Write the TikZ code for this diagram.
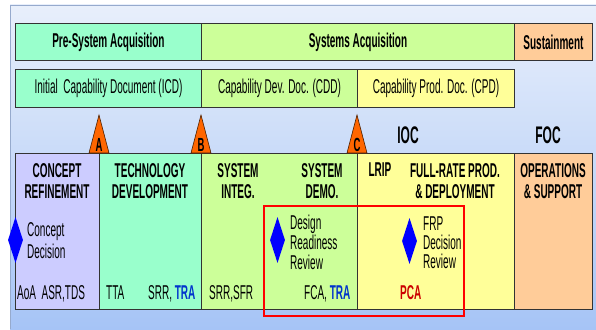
\documentclass[tikz,border=0pt]{standalone}
\usepackage{fontspec}
\setmainfont{Liberation Sans}[FakeStretch=0.5]
\usepackage{xcolor}
\usetikzlibrary{shapes.geometric}
\definecolor{panel_top}{RGB}{232,239,251}
\definecolor{panel_bot}{RGB}{166,196,246}
\definecolor{panel_edge}{RGB}{150,170,205}
\definecolor{pre_sys}{RGB}{153,255,204}
\definecolor{sys_acq}{RGB}{204,255,153}
\definecolor{sustain}{RGB}{255,204,153}
\definecolor{prod}{RGB}{255,255,153}
\definecolor{concept}{RGB}{204,204,255}
\definecolor{milestone}{RGB}{255,102,0}
\definecolor{tra_blue}{RGB}{0,51,204}
\definecolor{pca_red}{RGB}{204,0,0}
\newcommand{\phasefont}{\fontsize{20}{21}\selectfont}

\begin{document}
\begin{tikzpicture}[x=1pt, y=-1pt,
    box/.style = {draw=black!80, line width=0.9pt, anchor=north west, inner sep=0pt,
                  minimum width=#1, font=\phasefont},
    head/.style = {anchor=north, align=center, inner sep=0pt, font=\phasefont\bfseries},
    note/.style = {anchor=north west, align=left, inner sep=0pt, font=\phasefont},
    item/.style = {anchor=base west, inner sep=0pt, font=\phasefont},
    decision/.style = {diamond, fill=blue, inner sep=0pt, minimum width=15, minimum height=46},
    mspoint/.style = {fill=milestone, draw=black!70!milestone, line width=0.6pt}
    ]
  \useasboundingbox (0,0) rectangle (596,329);
  \shade[top color=panel_top, bottom color=panel_bot] (10,5) rectangle (596,329);
  \draw[panel_edge] (10,329) -- (10,5) -- (596,5);

  % phases
  \node[box=186, minimum height=37, fill=pre_sys] (presys) at (15,23) {\bfseries Pre-System Acquisition};
  \node[box=313, minimum height=37, fill=sys_acq] (sysacq) at (201,23) {\bfseries Systems Acquisition};
  \node[box=78, minimum height=37, fill=sustain] (sustain) at (514,23) {\bfseries Sustainment};

  % capability documents
  \node[box=186, minimum height=38, fill=pre_sys] (icd) at (15,69) {Initial\ \ Capability Document (ICD)};
  \node[box=156, minimum height=38, fill=sys_acq] (cdd) at (201,69) {Capability Dev. Doc. (CDD)};
  \node[box=157, minimum height=38, fill=prod] (cpd) at (357,69) {Capability Prod. Doc. (CPD)};

  % work efforts
  \node[box=84, minimum height=156, fill=concept] (crcol) at (15,153) {};
  \node[box=102, minimum height=156, fill=pre_sys] (tdcol) at (99,153) {};
  \node[box=156, minimum height=156, fill=sys_acq] (sddcol) at (201,153) {};
  \node[box=157, minimum height=156, fill=prod] (pdcol) at (357,153) {};
  \node[box=78, minimum height=156, fill=sustain] (oscol) at (514,153) {};

  \foreach \mx/\ml in {99/A, 201/B, 357/C} {
    \draw[mspoint] (\mx-10,153) -- (\mx,115) -- (\mx+10,153) -- cycle;
    \node[inner sep=0pt, font=\fontsize{19}{19}\selectfont\bfseries] (ms\ml) at (\mx,145) {\ml};
  }
  \node[inner sep=0pt, font=\fontsize{24}{24}\selectfont\bfseries] (ioc) at (408,135) {IOC};
  \node[inner sep=0pt, font=\fontsize{24}{24}\selectfont\bfseries] (foc) at (548,135) {FOC};

  \node[head] (crhead) at (57,163) {CONCEPT\\REFINEMENT};
  \node[head] (tdhead) at (150,163) {TECHNOLOGY\\DEVELOPMENT};
  \node[head] (sihead) at (238,163) {SYSTEM\\INTEG.};
  \node[head] (sdhead) at (322,163) {SYSTEM\\DEMO.};
  \node[head] (lriphead) at (380,163) {LRIP};
  \node[head] (frphead) at (455,163) {FULL-RATE PROD.\\\& DEPLOYMENT};
  \node[head] (oshead) at (553,163) {OPERATIONS\\\& SUPPORT};

  % decision points
  \node[decision] (cdmark) at (15.5,240) {};
  \node[note, font=\fontsize{20}{22}\selectfont] (cdtext) at (27,222) {Concept\\Decision};
  \node[decision] (drrmark) at (277.5,240) {};
  \node[note, font=\fontsize{20}{20}\selectfont] (drrtext) at (290,215) {Design\\Readiness\\Review};
  \node[decision] (frpmark) at (409.5,241) {};
  \node[note, font=\fontsize{20}{19}\selectfont] (frptext) at (423,217) {FRP\\Decision\\Review};

  % reviews
  \node[item] (crrev) at (17,299) {AoA\ \ ASR,TDS};
  \node[item] (ttarev) at (106,299) {TTA};
  \node[item] (tdrev) at (148,299) {SRR, \textcolor{tra_blue}{\bfseries TRA}};
  \node[item] (sirev) at (209,299) {SRR,SFR};
  \node[item] (sdrev) at (304,299) {FCA, \textcolor{tra_blue}{\bfseries TRA}};
  \node[item, text=pca_red, font=\phasefont\bfseries] (pcarev) at (400,299) {PCA};

  \node[draw=red, line width=2pt, anchor=north west, minimum width=200, minimum height=110] (drrframe) at (263,205) {};
\end{tikzpicture}
\end{document}
